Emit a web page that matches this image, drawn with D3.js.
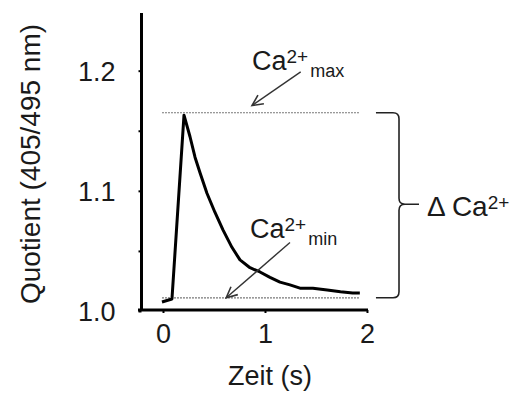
<!DOCTYPE html>
<html lang="de">
<head>
<meta charset="UTF-8">
<title>Ca2+ Quotient</title>
<script src="https://d3js.org/d3.v7.min.js"></script>
<style>
  body { margin: 0; background: #fff; }
  svg { display: block; font-family: "Liberation Sans", Arial, sans-serif; }
  .lbl { fill: #1a1a1a; }
</style>
</head>
<body>
<svg width="518" height="401"></svg>
<script>
  // trace: time (s) and quotient
  const zeit = [-0.01, 0.088, 0.206, 0.265, 0.314, 0.363, 0.431, 0.51, 0.588, 0.676, 0.755, 0.853, 0.951, 1.049, 1.147, 1.245, 1.343, 1.47, 1.61, 1.74, 1.86, 1.93];
  const quotient = [1.0075, 1.010, 1.163, 1.145, 1.128, 1.115, 1.098, 1.082, 1.0675, 1.053, 1.0425, 1.036, 1.0325, 1.028, 1.024, 1.0217, 1.019, 1.019, 1.0175, 1.016, 1.015, 1.015];

  const caMax = 1.165;
  const caMin = 1.011;
  const xTicks = [0, 1, 2];
  const yTicks = [1.0, 1.1, 1.2];
  const yMinorTicks = [1.05, 1.15];

  const svg = d3.select("svg");

  const x = d3.scaleLinear().domain([-0.245, 2.01]).range([138, 368]);
  const y = d3.scaleLinear().domain([1.0, 1.248]).range([311, 13]);

  // y axis
  const yAxis = d3.axisLeft(y)
      .tickValues(yTicks.concat(yMinorTicks))
      .tickSize(3)
      .tickFormat(d => yTicks.includes(d) ? d.toFixed(1) : "");
  const gy = svg.append("g").attr("transform", `translate(${x.range()[0] + 3.5},0)`).call(yAxis);
  gy.select(".domain").attr("d", `M0,${y.range()[1]}V${y.range()[0]}`).attr("stroke-width", 3).attr("stroke", "#000");
  gy.selectAll(".tick line").attr("stroke-width", 2).attr("stroke", "#000");
  gy.selectAll(".tick text").attr("class", "lbl").attr("font-size", 27).attr("x", -26).attr("dy", "0.36em");

  // x axis
  const xAxis = d3.axisBottom(x).tickValues(xTicks).tickSize(3).tickFormat(d3.format("d"));
  const gx = svg.append("g").attr("transform", "translate(0,310)").call(xAxis);
  gx.select(".domain").attr("d", `M${x.range()[0]},0H${x.range()[1]}`).attr("stroke-width", 3).attr("stroke", "#000");
  gx.selectAll(".tick line").attr("stroke-width", 2).attr("stroke", "#000");
  gx.selectAll(".tick text").attr("class", "lbl").attr("font-size", 27).attr("y", 14).attr("dy", "0.71em");

  // axis titles
  svg.append("text").attr("class", "lbl")
      .attr("transform", `translate(40,${(y.range()[0] + y.range()[1]) / 2 + 2}) rotate(-90)`)
      .attr("text-anchor", "middle").attr("font-size", 28)
      .text("Quotient (405/495 nm)");
  svg.append("text").attr("class", "lbl")
      .attr("x", x(1.05)).attr("y", 385)
      .attr("text-anchor", "middle").attr("font-size", 27)
      .text("Zeit (s)");

  // dotted max / min lines
  [caMax, caMin].forEach(v => {
    svg.append("line")
        .attr("x1", x(-0.01)).attr("x2", x(1.93))
        .attr("y1", y(v)).attr("y2", y(v))
        .attr("stroke", "#777").attr("stroke-width", 1.2)
        .attr("stroke-dasharray", "2,1");
  });

  // trace
  const line = d3.line().x(d => x(d[0])).y(d => y(d[1]));
  svg.append("path")
      .datum(d3.zip(zeit, quotient))
      .attr("d", line)
      .attr("fill", "none")
      .attr("stroke", "#000")
      .attr("stroke-width", 3)
      .attr("stroke-linejoin", "round");

  // arrows
  function arrow(t0, v0, t1, v1) {
    const x0 = x(t0), y0 = y(v0), x1 = x(t1), y1 = y(v1);
    const a = Math.atan2(y1 - y0, x1 - x0);
    const len = 12, spread = 0.45;
    svg.append("line").attr("x1", x0).attr("y1", y0).attr("x2", x1).attr("y2", y1)
        .attr("stroke", "#333").attr("stroke-width", 1.4);
    svg.append("path")
        .attr("d", `M${x1 - len * Math.cos(a - spread)},${y1 - len * Math.sin(a - spread)}L${x1},${y1}L${x1 - len * Math.cos(a + spread)},${y1 - len * Math.sin(a + spread)}`)
        .attr("fill", "none").attr("stroke", "#333").attr("stroke-width", 1.6);
  }
  arrow(1.35, 1.199, 0.873, 1.171);
  arrow(1.245, 1.057, 0.62, 1.011);

  // Ca labels
  function caLabel(t, v, sub) {
    const txt = svg.append("text").attr("class", "lbl").attr("x", x(t)).attr("y", y(v));
    txt.append("tspan").attr("font-size", 27).text("Ca");
    txt.append("tspan").attr("font-size", 19).attr("dy", -7).text("2+");
    if (sub) txt.append("tspan").attr("font-size", 18).attr("dy", 14).attr("dx", 2).text(sub);
    return txt;
  }
  caLabel(0.873, 1.2008, "max");
  caLabel(0.853, 1.061, "min");

  // bracket
  const bx = x(2.314), bl = x(2.088), bt = x(2.51);
  const yt = y(caMax), yb = y(caMin), ym = (yt + yb) / 2 - 1;
  const r = 6;
  svg.append("path")
      .attr("d", `M${bl},${yt}H${bx - r}Q${bx},${yt} ${bx},${yt + r}V${ym - r}Q${bx},${ym} ${bx + r},${ym}H${bt}` +
                 `M${bx + r},${ym}Q${bx},${ym} ${bx},${ym + r}V${yb - r}Q${bx},${yb} ${bx - r},${yb}H${bl}`)
      .attr("fill", "none").attr("stroke", "#222").attr("stroke-width", 1.6);

  const dTxt = svg.append("text").attr("class", "lbl").attr("x", x(2.588)).attr("y", ym + 12);
  dTxt.append("tspan").attr("font-size", 28).text("\u0394 Ca");
  dTxt.append("tspan").attr("font-size", 19).attr("dy", -7).text("2+");
</script>
</body>
</html>
